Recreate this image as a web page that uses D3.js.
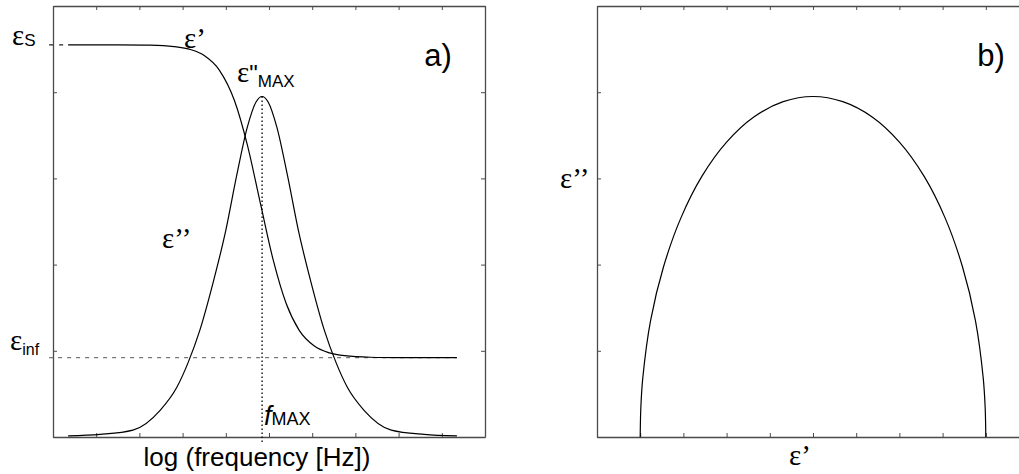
<!DOCTYPE html>
<html>
<head>
<meta charset="utf-8">
<script src="https://cdn.jsdelivr.net/npm/d3@7"></script>
<style>
  body { margin: 0; background: #fff; }
  svg { display: block; }
  .greek { font-family: "Liberation Serif", "Times New Roman", serif; }
  .sans  { font-family: "Liberation Sans", Arial, Helvetica, sans-serif; }
</style>
</head>
<body>
<svg id="chart" width="1019" height="474"></svg>
<script>
// ---- Debye relaxation, panel a: permittivity vs log frequency ----
const epsStatic = 4.55;     // ε_S plateau
const epsInf = 0.92;        // ε_inf plateau
const logFreqMax = 4.84;    // position of the loss peak
const lossMax = 3.95;       // ε''_MAX

// real part ε'
const logFreqReal = [0.35, 1.5, 2.25, 2.8, 3.2, 3.5, 3.85, 4.2, 4.5, 4.8, 5.1, 5.4, 5.7, 6.05, 6.4, 6.75, 7.35, 8.0, 9.35];
const epsReal     = [4.55, 4.549, 4.545, 4.529, 4.492, 4.426, 4.257, 3.903, 3.386, 2.712, 2.048, 1.545, 1.237, 1.055, 0.976, 0.943, 0.925, 0.921, 0.92];

// imaginary part ε''
const logFreqLoss = [0.35, 1.09, 1.85, 2.48, 2.87, 3.125, 3.4, 3.7, 4.0, 4.25, 4.5, 4.7, 4.84, 4.98, 5.18, 5.43, 5.68, 5.98, 6.28, 6.555, 6.81, 7.2, 7.83, 8.59, 9.35];
const epsLoss     = [0.012, 0.03, 0.08, 0.31, 0.58, 0.86, 1.24, 1.78, 2.397, 3.028, 3.597, 3.886, 3.95, 3.886, 3.597, 3.028, 2.397, 1.78, 1.24, 0.86, 0.58, 0.31, 0.08, 0.03, 0.012];

// ---- panel b: Cole-Cole arc, ε'' against ε' ----
const coleReal = [1.00, 1.015, 1.06, 1.24, 1.54, 1.94, 2.43, 3.00, 3.63, 4.31, 5.00, 5.69, 6.37, 7.00, 7.57, 8.06, 8.46, 8.76, 8.94, 8.985, 9.00];
const coleLoss = [0, 0.344, 0.686, 1.351, 1.975, 2.539, 3.026, 3.421, 3.712, 3.890, 3.95, 3.890, 3.712, 3.421, 3.026, 2.539, 1.975, 1.351, 0.686, 0.344, 0];

// unlabeled tick positions
const xTicks = d3.range(0, 11);
const yTicks = d3.range(0, 6);

const svg = d3.select("#chart");

const plotTop = 6, plotBottom = 437, panelW = 432;
const xA = d3.scaleLinear().domain([0, 10]).range([53, 53 + panelW]);
const xB = d3.scaleLinear().domain([0, 10]).range([597, 597 + panelW]);
const yA = d3.scaleLinear().domain([0, 5]).range([plotBottom, plotTop]);
const yB = yA.copy();

const frameColor = "#4a4a4a";

function frame(g, x, y, sides) {
  const tick = 4;
  const ax = {
    bottom: d3.axisBottom(x),
    top: d3.axisTop(x),
    left: d3.axisLeft(y),
    right: d3.axisRight(y)
  };
  sides.forEach(side => {
    const isX = side === "bottom" || side === "top";
    const a = ax[side]
      .tickValues(isX ? xTicks : yTicks)
      .tickFormat("")
      .tickSizeInner(-tick)
      .tickSizeOuter(0);
    const tr = side === "bottom" ? `translate(0,${y.range()[0]})`
             : side === "top" ? `translate(0,${y.range()[1]})`
             : side === "left" ? `translate(${x.range()[0]},0)`
             : `translate(${x.range()[1]},0)`;
    const gg = g.append("g").attr("transform", tr).call(a);
    gg.select(".domain").attr("stroke", frameColor).attr("stroke-width", 1.3);
    gg.selectAll(".tick line").attr("stroke", frameColor).attr("stroke-width", 1);
  });
}

// ---------------- panel a ----------------
const gA = svg.append("g");
frame(gA, xA, yA, ["bottom", "top", "left", "right"]);

// ε_inf reference level
gA.append("line")
  .attr("x1", xA(-0.09)).attr("x2", xA(logFreqReal[logFreqReal.length - 1]))
  .attr("y1", yA(epsInf)).attr("y2", yA(epsInf))
  .attr("stroke", "#777").attr("stroke-width", 1.2)
  .attr("stroke-dasharray", "4,5");

// ε_S reference stub
gA.append("line")
  .attr("x1", xA(-0.09)).attr("x2", xA(logFreqReal[0]))
  .attr("y1", yA(epsStatic)).attr("y2", yA(epsStatic))
  .attr("stroke", "#222").attr("stroke-width", 1.2)
  .attr("stroke-dasharray", "4,6");

// f_MAX marker
gA.append("line")
  .attr("x1", xA(logFreqMax)).attr("x2", xA(logFreqMax))
  .attr("y1", yA(lossMax)).attr("y2", plotBottom + 5)
  .attr("stroke", "#000").attr("stroke-width", 1.3)
  .attr("stroke-dasharray", "1.5,2.5");

const lineA = d3.line().curve(d3.curveMonotoneX);

gA.append("path")
  .attr("d", lineA(logFreqReal.map((f, i) => [xA(f), yA(epsReal[i])])))
  .attr("fill", "none").attr("stroke", "#000").attr("stroke-width", 1.2);

gA.append("path")
  .attr("d", lineA(logFreqLoss.map((f, i) => [xA(f), yA(epsLoss[i])])))
  .attr("fill", "none").attr("stroke", "#000").attr("stroke-width", 1.2);

// labels, panel a
function label(g, x, y, parts) {
  const t = g.append("text").attr("x", x).attr("y", y).attr("fill", "#000");
  parts.forEach(p => {
    const s = t.append("tspan").attr("class", p.cls).style("font-size", p.size + "px").text(p.text);
    if (p.dy) s.attr("dy", p.dy);
    if (p.italic) s.style("font-style", "italic");
  });
  return t;
}

label(gA, 12, yA(epsStatic), [
  { text: "ε", cls: "greek", size: 29 },
  { text: "S", cls: "sans", size: 17, dy: 1 }
]);
label(gA, 10, yA(epsInf) - 8, [
  { text: "ε", cls: "greek", size: 29 },
  { text: "inf", cls: "sans", size: 16, dy: 5 }
]);
label(gA, 184, 48, [{ text: "ε’", cls: "greek", size: 29 }]);
label(gA, 237, 82, [
  { text: "ε", cls: "greek", size: 29 },
  { text: "\"", cls: "sans", size: 24 },
  { text: "MAX", cls: "sans", size: 17, dy: 5 }
]);
label(gA, 162, 248, [{ text: "ε’’", cls: "greek", size: 29 }]);
label(gA, 264, 425, [
  { text: "f", cls: "sans", size: 27, italic: true },
  { text: "MAX", cls: "sans", size: 18 }
]);
gA.append("text").attr("class", "sans")
  .attr("x", 438).attr("y", 66).attr("text-anchor", "middle")
  .style("font-size", "31px").text("a)");
gA.append("text").attr("class", "sans")
  .attr("x", (xA.range()[0] + xA.range()[1]) / 2 - 12).attr("y", 466).attr("text-anchor", "middle")
  .style("font-size", "26px").text("log (frequency [Hz])");

// ---------------- panel b ----------------
const gB = svg.append("g");
frame(gB, xB, yB, ["bottom", "top", "left"]);

gB.append("path")
  .attr("d", d3.line().curve(d3.curveCatmullRom.alpha(0.5))(coleReal.map((e, i) => [xB(e), yB(coleLoss[i])])))
  .attr("fill", "none").attr("stroke", "#000").attr("stroke-width", 1.2);

gB.append("text").attr("class", "sans")
  .attr("x", 991).attr("y", 66).attr("text-anchor", "middle")
  .style("font-size", "31px").text("b)");
label(gB, 560, 188, [{ text: "ε’’", cls: "greek", size: 29 }]);
label(gB, 789, 465, [{ text: "ε’", cls: "greek", size: 29 }]);
</script>
</body>
</html>
